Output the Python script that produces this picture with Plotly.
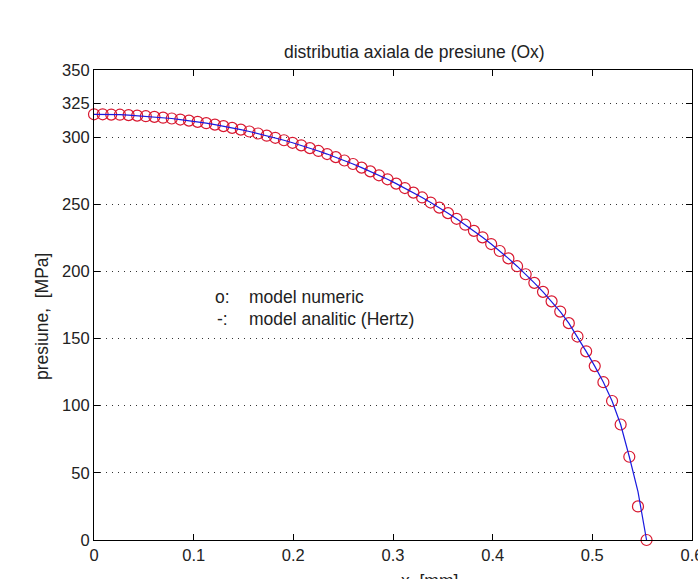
import plotly.graph_objects as go

# node positions along x [mm]
x_nodes = [0.0000, 0.0087, 0.0173, 0.0260, 0.0347, 0.0433, 0.0520, 0.0606, 0.0693, 0.0780,
           0.0866, 0.0953, 0.1040, 0.1126, 0.1213, 0.1299, 0.1386, 0.1473, 0.1559, 0.1646,
           0.1733, 0.1819, 0.1906, 0.1992, 0.2079, 0.2166, 0.2252, 0.2339, 0.2426, 0.2512,
           0.2599, 0.2685, 0.2772, 0.2859, 0.2945, 0.3032, 0.3119, 0.3205, 0.3292, 0.3378,
           0.3465, 0.3552, 0.3638, 0.3725, 0.3812, 0.3898, 0.3985, 0.4071, 0.4158, 0.4245,
           0.4331, 0.4418, 0.4505, 0.4591, 0.4678, 0.4764, 0.4851, 0.4938, 0.5024, 0.5111,
           0.5198, 0.5284, 0.5371, 0.5458, 0.5544]

# numerical model pressure [MPa]
p_numeric = [317.0, 317.0, 316.8, 316.7, 316.4, 316.0, 315.6, 315.1, 314.5, 313.9,
             313.1, 312.3, 311.4, 310.4, 309.3, 308.2, 306.9, 305.6, 304.2, 302.7,
             301.1, 299.5, 297.7, 295.8, 293.9, 291.8, 289.7, 287.4, 285.1, 282.6,
             280.0, 277.3, 274.5, 271.6, 268.6, 265.4, 262.1, 258.7, 255.1, 251.3,
             247.5, 243.4, 239.2, 234.8, 230.2, 225.4, 220.4, 215.2, 209.7, 203.9,
             197.9, 191.5, 184.8, 177.7, 170.1, 161.5, 151.5, 140.5, 129.5, 117.5,
             103.5, 86.0, 62.0, 25.0, 0.0]

# analytical (Hertz) pressure [MPa]
p_hertz = [317.0, 317.0, 316.8, 316.7, 316.4, 316.0, 315.6, 315.1, 314.5, 313.9,
           313.1, 312.3, 311.4, 310.4, 309.3, 308.2, 306.9, 305.6, 304.2, 302.7,
           301.1, 299.5, 297.7, 295.8, 293.9, 291.8, 289.7, 287.4, 285.1, 282.6,
           280.0, 277.3, 274.5, 271.6, 268.6, 265.4, 262.1, 258.7, 255.1, 251.3,
           247.5, 243.4, 239.2, 234.8, 230.2, 225.4, 220.4, 215.2, 209.7, 203.9,
           197.9, 191.5, 184.8, 177.7, 170.1, 161.5, 151.5, 140.5, 129.5, 117.5,
           103.5, 86.0, 62.0, 36.0, 0.0]

x_ticks = [0, 0.1, 0.2, 0.3, 0.4, 0.5, 0.6]
x_tick_labels = ["0", "0.1", "0.2", "0.3", "0.4", "0.5", "0.6"]
y_ticks = [0, 50, 100, 150, 200, 250, 300, 325, 350]
y_tick_labels = ["0", "50", "100", "150", "200", "250", "300", "325", "350"]

FONT = "Liberation Sans, Arial, sans-serif"

fig = go.Figure()
fig.add_trace(go.Scatter(
    x=x_nodes, y=p_numeric, mode="markers",
    marker=dict(symbol="circle-open", size=11, color="#d81830", line=dict(width=1.2)),
    cliponaxis=False, showlegend=False))
fig.add_trace(go.Scatter(
    x=x_nodes, y=p_hertz, mode="lines",
    line=dict(color="#1a1adf", width=1.2),
    cliponaxis=False, showlegend=False))

fig.update_layout(
    width=698, height=579,
    margin=dict(l=94, r=6, t=70, b=39, autoexpand=False),
    paper_bgcolor="white", plot_bgcolor="white",
    font=dict(family=FONT, size=16.5, color="black"),
    showlegend=False,
)

fig.update_xaxes(
    range=[0, 0.6], tickvals=x_ticks, ticktext=x_tick_labels,
    showgrid=False, zeroline=False, automargin=False,
    showline=True, linecolor="black", linewidth=1.2, mirror="allticks",
    ticks="inside", ticklen=6, tickcolor="black", tickwidth=1,
    ticklabeloverflow="allow",
    tickfont=dict(family=FONT, size=16.5, color="#222222"),
)
fig.update_yaxes(
    range=[0, 350], tickvals=y_ticks, ticktext=y_tick_labels,
    showgrid=True, gridcolor="#333333", gridwidth=1, griddash="1px,5px",
    zeroline=False, automargin=False,
    showline=True, linecolor="black", linewidth=1.2, mirror="allticks",
    ticks="inside", ticklen=6, tickcolor="black", tickwidth=1,
    ticklabeloverflow="allow",
    tickfont=dict(family=FONT, size=16.5, color="#222222"),
)

def px_x(px):
    return (px - 94) / 598.0

def px_y(py):
    return (540 - py) / 470.0

anns = [
    dict(text="distributia axiala de presiune (Ox)", x=px_x(414), y=px_y(52),
         xanchor="center", yanchor="middle", font=dict(size=17.5)),
    dict(text="x\u00a0 [mm]", x=px_x(429), y=px_y(581),
         xanchor="center", yanchor="middle", font=dict(size=17.5)),
    dict(text="presiune,\u00a0 [MPa]", x=px_x(42), y=px_y(317), textangle=-90,
         xanchor="center", yanchor="middle", font=dict(size=17.5)),
    dict(text="o:", x=px_x(213), y=px_y(297), xanchor="left", yanchor="middle",
         font=dict(size=17.5)),
    dict(text="model numeric", x=px_x(247), y=px_y(297), xanchor="left", yanchor="middle",
         font=dict(size=17.5)),
    dict(text="-:", x=px_x(215), y=px_y(319), xanchor="left", yanchor="middle",
         font=dict(size=17.5)),
    dict(text="model analitic (Hertz)", x=px_x(247), y=px_y(319), xanchor="left",
         yanchor="middle", font=dict(size=17.5)),
]
for a in anns:
    a.update(xref="paper", yref="paper", showarrow=False)
    a["font"] = dict(family=FONT, color="#222222", size=a["font"]["size"])
    fig.add_annotation(**a)

fig.write_html("out.html")
